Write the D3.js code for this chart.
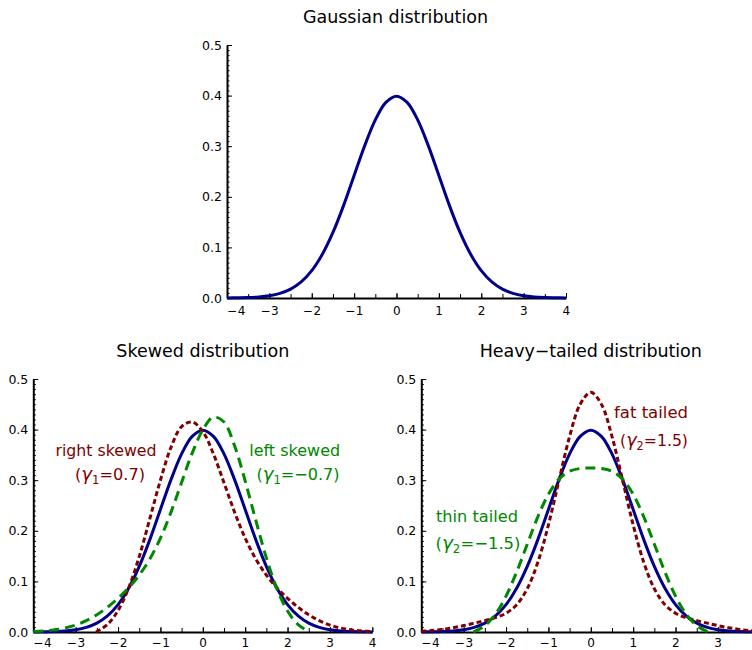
<!DOCTYPE html>
<html><head><meta charset="utf-8">
<script src="https://cdn.jsdelivr.net/npm/d3@7"></script>
<style>
html,body{margin:0;padding:0;background:#fff;}
svg{display:block;font-family:"DejaVu Sans",sans-serif;}
</style></head>
<body><svg id="c" width="752" height="650"></svg>
<script>
// ---------- data ----------
const titles = ["Gaussian distribution", "Skewed distribution", "Heavy\u2212tailed distribution"];
const xTickValues = [-4,-3,-2,-1,0,1,2,3,4];
const xMinorTickValues = [-4,-3.5,-3,-2.5,-2,-1.5,-1,-0.5,0,0.5,1,1.5,2,2.5,3,3.5,4];
const yTickValues = [0,0.1,0.2,0.3,0.4,0.5];
const yMinorTickValues = [0,0.01,0.02,0.03,0.04,0.05,0.06,0.07,0.08,0.09,0.1,0.11,0.12,0.13,0.14,0.15,0.16,0.17,0.18,0.19,0.2,0.21,0.22,0.23,0.24,0.25,0.26,0.27,0.28,0.29,0.3,0.31,0.32,0.33,0.34,0.35,0.36,0.37,0.38,0.39,0.4,0.41,0.42,0.43,0.44,0.45,0.46,0.47,0.48,0.49,0.5];

const gridX = [-4,-3.75,-3.5,-3.25,-3,-2.75,-2.5,-2.25,-2,-1.75,-1.5,-1.25,-1,-0.75,-0.5,-0.25,0,0.25,0.5,0.75,1,1.25,1.5,1.75,2,2.25,2.5,2.75,3,3.25,3.5,3.75,4];
const gaussianY = [0.0001,0.0004,0.0009,0.0020,0.0044,0.0091,0.0175,0.0317,0.0540,0.0863,0.1295,0.1826,0.2420,0.3011,0.3521,0.3867,0.3989,0.3867,0.3521,0.3011,0.2420,0.1826,0.1295,0.0863,0.0540,0.0317,0.0175,0.0091,0.0044,0.0020,0.0009,0.0004,0.0001];

const rightSkewX = [-2.52,-2.25,-2,-1.75,-1.5,-1.25,-1,-0.75,-0.5,-0.25,0,0.25,0.5,0.75,1,1.25,1.5,1.75,2,2.25,2.5,2.75,3,3.25,3.5,3.75,4];
const rightSkewY = [0,0.0150,0.0425,0.0870,0.1490,0.2240,0.3000,0.3650,0.4060,0.4150,0.3960,0.3520,0.2950,0.2369,0.1855,0.1444,0.1125,0.0874,0.0666,0.0489,0.0341,0.0224,0.0137,0.0079,0.0042,0.0020,0.0009];

const leftSkewX = [-4,-3.75,-3.5,-3.25,-3,-2.75,-2.5,-2.25,-2,-1.75,-1.5,-1.25,-1,-0.75,-0.5,-0.25,0,0.25,0.5,0.75,1,1.25,1.5,1.75,2,2.25,2.52];
const leftSkewY = [0.0009,0.0020,0.0042,0.0079,0.0137,0.0224,0.0341,0.0489,0.0666,0.0874,0.1125,0.1444,0.1855,0.2369,0.2956,0.3535,0.3995,0.4250,0.4150,0.3680,0.2984,0.2209,0.1465,0.0852,0.0414,0.0146,0];

const fatTailX = gridX;
const fatTailY = [0.0015,0.0029,0.0052,0.0085,0.0127,0.0175,0.0225,0.0283,0.0371,0.0539,0.0855,0.1377,0.2117,0.3000,0.3865,0.4502,0.4737,0.4502,0.3865,0.3000,0.2117,0.1377,0.0855,0.0539,0.0371,0.0283,0.0225,0.0175,0.0127,0.0085,0.0052,0.0029,0.0015];

const thinTailX = [-2.77,-2.5,-2.25,-2,-1.75,-1.5,-1.25,-1,-0.75,-0.5,-0.25,0,0.25,0.5,0.75,1,1.25,1.5,1.75,2,2.25,2.5,2.77];
const thinTailY = [0,0.0125,0.0352,0.0709,0.1186,0.1735,0.2276,0.2722,0.3022,0.3177,0.3231,0.3241,0.3231,0.3177,0.3022,0.2722,0.2276,0.1735,0.1186,0.0709,0.0352,0.0125,0];

// ---------- styles ----------
const NAVY = "#00008b", MAROON = "#800000", GREEN = "#008800";
const W = 752;

const svg = d3.select("#c");

function panel(cfg) {
  const x = d3.scaleLinear().domain([-4, 4]).range([cfg.x0, cfg.x0 + 339]);
  const y = d3.scaleLinear().domain([0, 0.5]).range([cfg.y0, cfg.y0 - 253]);
  const g = svg.append("g");

  // title
  g.append("text").attr("x", x(0) + cfg.titleDx).attr("y", cfg.y0 - 275)
    .attr("text-anchor", "middle").attr("font-size", 17.5).attr("fill", "#000")
    .attr("textLength", cfg.titleLen).attr("lengthAdjust", "spacing")
    .text(cfg.title);

  // x minor ticks
  g.append("g").attr("transform", `translate(0,${cfg.y0})`)
    .call(d3.axisBottom(x).tickValues(xMinorTickValues).tickSize(-4).tickSizeOuter(0).tickFormat(""))
    .call(s => s.select(".domain").remove())
    .call(s => s.selectAll("line").attr("stroke", "#000").attr("stroke-width", 1));
  // x major
  const xa = g.append("g").attr("transform", `translate(0,${cfg.y0})`)
    .call(d3.axisBottom(x).tickValues(xTickValues).tickSize(-5).tickSizeOuter(0).tickPadding(cfg.xPad).tickFormat(d3.format("d")));
  xa.select(".domain").attr("stroke", "#000").attr("stroke-width", 2);
  xa.selectAll("line").attr("stroke", "#000").attr("stroke-width", 1);
  xa.selectAll("text").attr("font-size", 12).attr("font-family", "DejaVu Sans").attr("fill", "#000")
    .attr("letter-spacing", 0.6);
  xa.selectAll(".tick").filter(d => d === -4).select("text").attr("x", 9);
  // labels whose tick lies beyond the page edge are not visible in the reference
  xa.selectAll(".tick").filter(d => x(d) > W - 4).select("text").remove();

  // y minor ticks
  g.append("g").attr("transform", `translate(${cfg.x0},0)`)
    .call(d3.axisLeft(y).tickValues(yMinorTickValues).tickSize(-2.5).tickSizeOuter(0).tickFormat(""))
    .call(s => s.select(".domain").remove())
    .call(s => s.selectAll("line").attr("stroke", "#000").attr("stroke-width", 1));
  const ya = g.append("g").attr("transform", `translate(${cfg.x0},0)`)
    .call(d3.axisLeft(y).tickValues(yTickValues).tickSize(-5).tickSizeOuter(0).tickPadding(5).tickFormat(d3.format(".1f")));
  ya.select(".domain").attr("stroke", "#000").attr("stroke-width", 2);
  ya.selectAll("line").attr("stroke", "#000").attr("stroke-width", 1);
  ya.selectAll("text").attr("font-size", 12.5).attr("font-family", "DejaVu Sans").attr("fill", "#000");

  const line = d3.line().x(d => x(d[0])).y(d => y(d[1])).curve(d3.curveCatmullRom.alpha(0.5));
  cfg.series.forEach(s => {
    g.append("path").datum(d3.zip(s.xs, s.ys)).attr("d", line)
      .attr("fill", "none").attr("stroke", s.color).attr("stroke-width", 3)
      .attr("stroke-dasharray", s.dash || null).attr("stroke-linejoin", "round");
  });
  (cfg.labels || []).forEach(l => {
    const t = g.append("text").attr("x", l.x).attr("y", l.y).attr("text-anchor", "middle")
      .attr("font-size", 16).attr("fill", l.color);
    if (l.len) t.attr("textLength", l.len).attr("lengthAdjust", "spacingAndGlyphs");
    if (l.sub) {
      t.append("tspan").text("(");
      t.append("tspan").attr("font-style", "italic").attr("font-size", 18).text("\u03b3");
      t.append("tspan").attr("font-size", 11.5).attr("dy", 4).text(l.sub);
      t.append("tspan").attr("dy", -4).text(l.text);
    } else {
      t.text(l.text);
    }
  });
}

panel({
  x0: 227, y0: 298, xPad: 8.5, title: titles[0], titleDx: -1, titleLen: 185,
  series: [{xs: gridX, ys: gaussianY, color: NAVY}]
});
panel({
  x0: 33.3, y0: 632, xPad: 6, title: titles[1], titleDx: 0, titleLen: 173,
  series: [
    {xs: gridX, ys: gaussianY, color: NAVY},
    {xs: rightSkewX, ys: rightSkewY, color: MAROON, dash: "5,3"},
    {xs: leftSkewX, ys: leftSkewY, color: GREEN, dash: "10,6"}
  ],
  labels: [
    {x: 106, y: 456, text: "right skewed", color: MAROON, len: 101},
    {x: 110, y: 480, sub: "1", text: "=0.7)", color: MAROON, len: 70},
    {x: 294.7, y: 456, text: "left skewed", color: GREEN, len: 91},
    {x: 298, y: 480, sub: "1", text: "=\u22120.7)", color: GREEN, len: 83}
  ]
});
panel({
  x0: 421.3, y0: 632, xPad: 6, title: titles[2], titleDx: 0, titleLen: 222,
  series: [
    {xs: gridX, ys: gaussianY, color: NAVY},
    {xs: fatTailX, ys: fatTailY, color: MAROON, dash: "5,3"},
    {xs: thinTailX, ys: thinTailY, color: GREEN, dash: "10,6"}
  ],
  labels: [
    {x: 651, y: 418, text: "fat tailed", color: MAROON, len: 74},
    {x: 654, y: 446, sub: "2", text: "=1.5)", color: MAROON, len: 68},
    {x: 477, y: 522, text: "thin tailed", color: GREEN, len: 82},
    {x: 478, y: 549, sub: "2", text: "=\u22121.5)", color: GREEN, len: 85}
  ]
});
</script></body></html>
